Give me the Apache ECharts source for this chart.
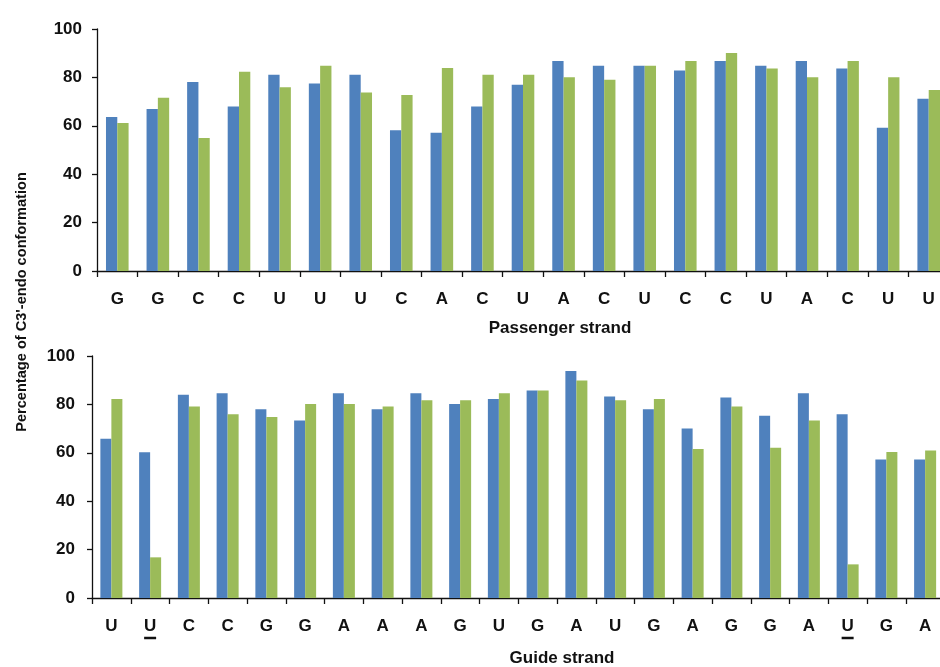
<!DOCTYPE html>
<html>
<head>
<meta charset="utf-8">
<script src="https://cdn.jsdelivr.net/npm/echarts@6/dist/echarts.min.js"></script>
<style>
  html, body { margin: 0; padding: 0; background: #ffffff; }
  #chart { width: 940px; height: 667px; }
</style>
</head>
<body>
<div id="chart"></div>
<script>
// Passenger strand (top panel)
const passengerBases = ['G','G','C','C','U','U','U','C','A','C','U','A','C','U','C','C','U','A','C','U','U'];
const passengerBlue  = [63.6,66.9,78.1,68.0,81.1,77.5,81.1,58.2,57.1,68.0,77.0,86.8,84.8,84.8,82.8,86.8,84.8,86.8,83.7,59.2,71.2];
const passengerGreen = [61.2,71.6,55.0,82.3,75.9,84.8,73.8,72.7,83.9,81.1,81.1,80.1,79.0,84.8,86.8,90.1,83.7,80.1,86.8,80.1,74.8];

// Guide strand (bottom panel)
const guideBases = ['U','U','C','C','G','G','A','A','A','G','U','G','A','U','G','A','G','G','A','U','G','A'];
const guideUnderlined = [1, 19];
const guideBlue  = [65.8,60.2,84.0,84.6,78.0,73.3,84.6,78.0,84.6,80.2,82.2,85.7,93.8,83.3,78.0,70.0,82.8,75.3,84.6,75.9,57.2,57.2];
const guideGreen = [82.2,16.8,79.1,75.9,74.8,80.2,80.2,79.1,81.7,81.7,84.6,85.7,89.9,81.7,82.2,61.6,79.1,62.1,73.3,13.9,60.3,61.0];

// Axis ticks
const yTicks = { min: 0, max: 100, interval: 20 };

const FONT = "'Liberation Sans', Arial, sans-serif";
const BLUE = '#4F81BD';
const GREEN = '#9BBB59';
const INK = '#111111';

const chart = echarts.init(document.getElementById('chart'), null, { renderer: 'canvas' });

function yAxisFor(gridIndex, margin) {
  return {
    type: 'value', gridIndex,
    min: yTicks.min, max: yTicks.max, interval: yTicks.interval,
    splitLine: { show: false },
    axisLine: { show: true, lineStyle: { color: INK, width: 1.3 } },
    axisTick: { show: true, length: 5, lineStyle: { color: INK, width: 1.3 } },
    axisLabel: { margin, color: INK, fontFamily: FONT, fontWeight: 'bold', fontSize: 17 }
  };
}

function xAxisFor(gridIndex, bases, underlined) {
  return {
    type: 'category', gridIndex, data: bases,
    axisLine: { show: true, lineStyle: { color: INK, width: 1.3 } },
    axisTick: { show: true, length: 6, alignWithLabel: false, lineStyle: { color: INK, width: 1.3 } },
    axisLabel: {
      interval: 0, margin: 20, color: INK, fontFamily: FONT, fontWeight: 'bold', fontSize: 17,
      // underlined bases get a short bar drawn beneath the letter
      formatter: (value, index) => underlined.includes(index) ? '{u|' + value + '}\n{line|}' : value,
      rich: {
        u: { color: INK, fontFamily: FONT, fontWeight: 'bold', fontSize: 17, lineHeight: 17 },
        line: { width: 12, height: 2.5, backgroundColor: INK, lineHeight: 6 }
      }
    }
  };
}

function barSeries(xIdx, data, color, width) {
  return {
    type: 'bar', xAxisIndex: xIdx, yAxisIndex: xIdx, data,
    barWidth: width, barGap: '0%',
    itemStyle: { color },
    silent: true, animation: false
  };
}

chart.setOption({
  backgroundColor: '#ffffff',
  animation: false,
  grid: [
    { left: 97, top: 29, width: 852, height: 242, outerBoundsMode: 'none' },
    { left: 92, top: 356, width: 852.5, height: 242, outerBoundsMode: 'none' }
  ],
  xAxis: [
    xAxisFor(0, passengerBases, []),
    xAxisFor(1, guideBases, guideUnderlined)
  ],
  yAxis: [
    yAxisFor(0, 15),
    yAxisFor(1, 17)
  ],
  series: [
    barSeries(0, passengerBlue, BLUE, 11.3),
    barSeries(0, passengerGreen, GREEN, 11.3),
    barSeries(1, guideBlue, BLUE, 11),
    barSeries(1, guideGreen, GREEN, 11)
  ],
  graphic: [
    {
      type: 'text', x: 560, y: 328, silent: true,
      style: { text: 'Passenger strand', fill: INK, font: 'bold 17px ' + FONT, align: 'center', verticalAlign: 'middle' }
    },
    {
      type: 'text', x: 562, y: 658, silent: true,
      style: { text: 'Guide strand', fill: INK, font: 'bold 17px ' + FONT, align: 'center', verticalAlign: 'middle' }
    },
    {
      type: 'text', x: 22, y: 302, rotation: Math.PI / 2, silent: true,
      style: { text: "Percentage of C3'-endo conformation", fill: INK, font: 'bold 14.6px ' + FONT, align: 'center', verticalAlign: 'middle' }
    }
  ]
});
</script>
</body>
</html>
